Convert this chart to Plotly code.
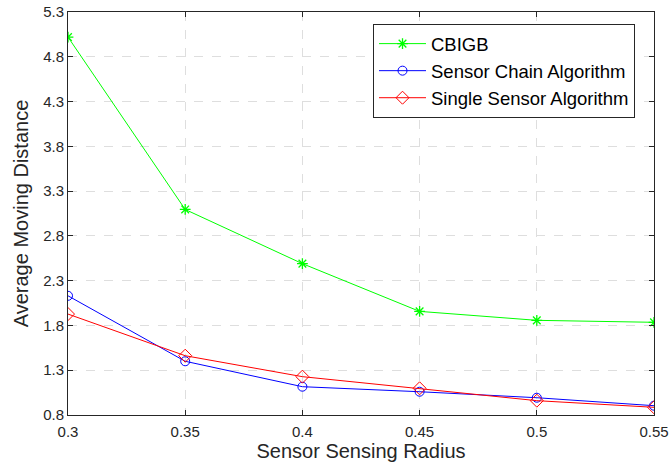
import plotly.graph_objects as go

radius = [0.3, 0.35, 0.4, 0.45, 0.5, 0.55]
cbigb = [5.02, 3.095, 2.49, 1.957, 1.857, 1.835]
chain = [2.131, 1.40, 1.116, 1.06, 0.993, 0.904]
single = [1.927, 1.462, 1.228, 1.098, 0.96, 0.886]
xticks = [0.3, 0.35, 0.4, 0.45, 0.5, 0.55]
xticktext = ["0.3", "0.35", "0.4", "0.45", "0.5", "0.55"]
yticks = [0.8, 1.3, 1.8, 2.3, 2.8, 3.3, 3.8, 4.3, 4.8, 5.3]
yticktext = ["0.8", "1.3", "1.8", "2.3", "2.8", "3.3", "3.8", "4.3", "4.8", "5.3"]

FONT = "Liberation Sans, Arial, Helvetica, sans-serif"

fig = go.Figure()
fig.add_trace(go.Scatter(x=radius, y=cbigb, name="CBIGB", mode="lines+markers",
                         line=dict(color="#00ff00", width=1),
                         marker=dict(symbol="asterisk-open", size=9, color="#00ff00",
                                     line=dict(color="#00ff00", width=1.3))))
fig.add_trace(go.Scatter(x=radius, y=chain, name="Sensor Chain Algorithm", mode="lines+markers",
                         line=dict(color="#0000ff", width=1),
                         marker=dict(symbol="circle-open", size=9, color="#0000ff",
                                     line=dict(color="#0000ff", width=1))))
fig.add_trace(go.Scatter(x=radius, y=single, name="Single Sensor Algorithm", mode="lines+markers",
                         line=dict(color="#ff0000", width=1),
                         marker=dict(symbol="diamond-open", size=10, color="#ff0000",
                                     line=dict(color="#ff0000", width=1))))

axis_common = dict(showline=True, linecolor="#262626", linewidth=1, mirror="ticks",
                   ticks="inside", ticklen=5, tickcolor="#262626",
                   showgrid=True, gridcolor="#dedede", griddash="dash", gridwidth=1,
                   zeroline=False, automargin=False,
                   tickfont=dict(family=FONT, size=15, color="#262626"))

fig.update_layout(
    width=671, height=469,
    margin=dict(l=68, r=17, t=12, b=54, autoexpand=False),
    plot_bgcolor="white", paper_bgcolor="white",
    font=dict(family=FONT, color="#262626"),
    xaxis=dict(range=[0.3, 0.55], tickvals=xticks, ticktext=xticktext,
               ticklabelstandoff=3,
               title=dict(text="Sensor Sensing Radius", font=dict(size=20), standoff=2),
               **axis_common),
    yaxis=dict(range=[0.8, 5.3], tickvals=yticks, ticktext=yticktext,
               title=dict(text="Average Moving Distance", font=dict(size=20), standoff=9),
               **axis_common),
    legend=dict(x=0.5205, y=0.970, xanchor="left", yanchor="top",
                bgcolor="white", bordercolor="#262626", borderwidth=1,
                font=dict(family=FONT, size=18.5, color="black"),
                tracegroupgap=0, itemwidth=47),
    showlegend=True,
)

fig.write_html("out.html", config={"displayModeBar": False},
               post_script="document.body.style.margin='0';")
